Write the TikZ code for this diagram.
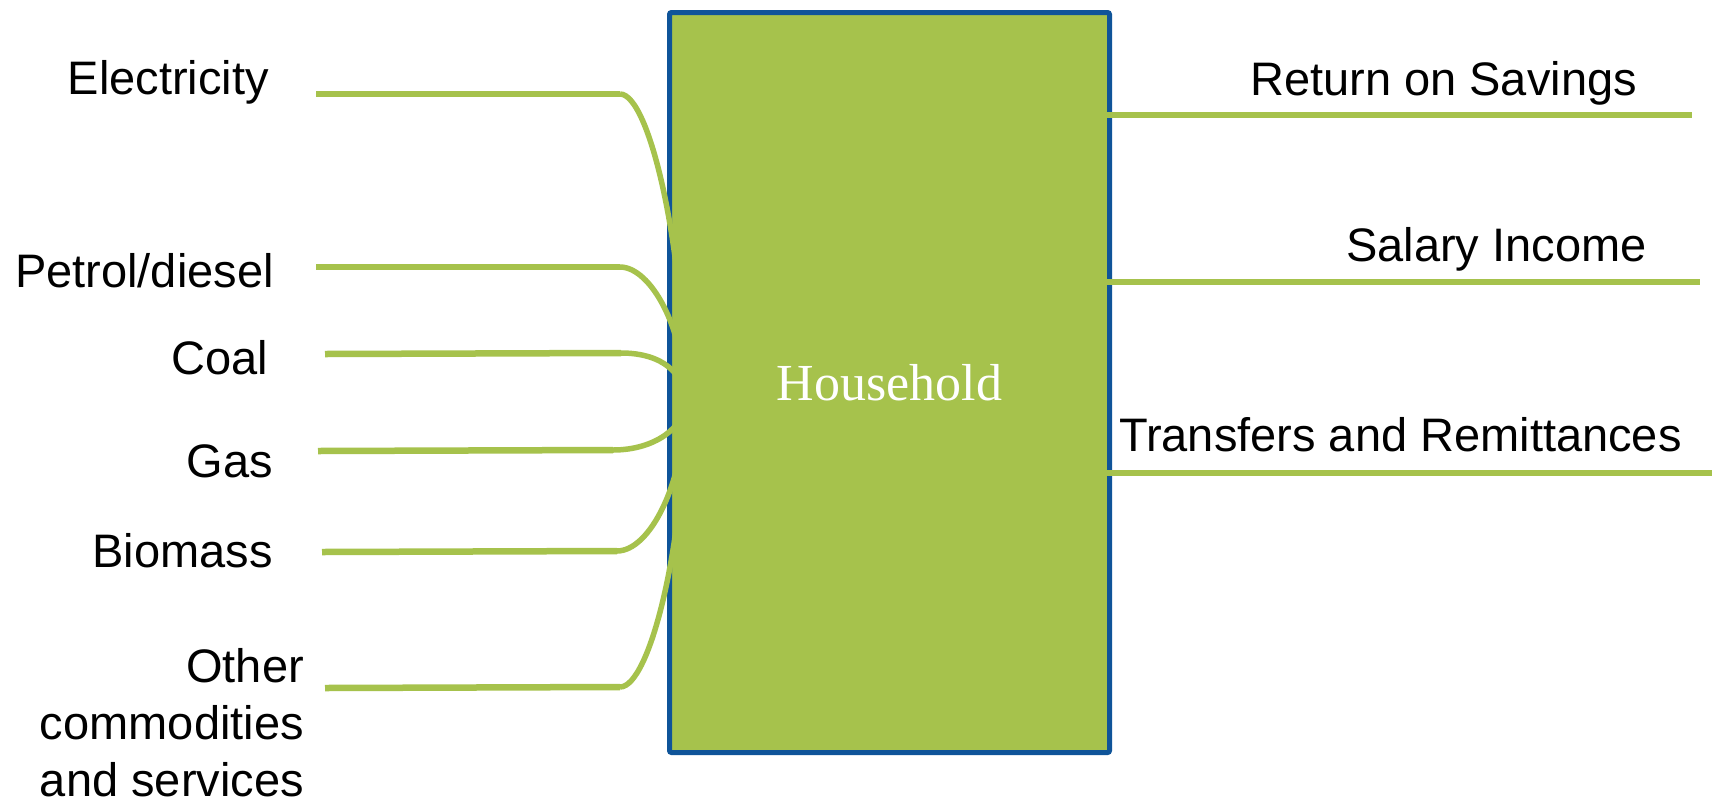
\documentclass[tikz,border=0pt]{standalone}
\usepackage{fontspec}
\setmainfont{Liberation Sans}
\newfontfamily\hhserif{Liberation Serif}
\definecolor{lgreen}{HTML}{A6C24C}
\definecolor{bborder}{HTML}{0F5499}
\tikzset{
  hhbox/.style={draw=bborder, fill=lgreen, line width=5pt, rounded corners=2pt,
    minimum width=440pt, minimum height=740pt, inner sep=0pt,
    font=\hhserif\fontsize{52}{60}\selectfont, text=white},
  lbl/.style={inner sep=0pt, font=\fontsize{47}{57}\selectfont, text=black},
  conn/.style={draw=lgreen, line width=6.5pt},
  curveconn/.style={draw=lgreen, line width=5.5pt},
}
\begin{document}
\begin{tikzpicture}[x=1pt,y=-1pt]
\useasboundingbox (0,0) rectangle (1712,801);
\fill[white] (0,0) rectangle (1712,801);

% central box
\node[hhbox] (hh) at (889.5,382.5) {Household};
\coordinate (hub) at (685,402);

% left labels
\node[lbl, anchor=base east] (elec) at (269,94) {Electricity};
\node[lbl, anchor=base east] (petrol) at (274,287) {Petrol/diesel};
\node[lbl, anchor=base east] (coal) at (268,374) {Coal};
\node[lbl, anchor=base east] (gas) at (273,477) {Gas};
\node[lbl, anchor=base east] (bio) at (273,567) {Biomass};
\node[lbl, anchor=north east, align=right] (other) at (304,648) {Other\\commodities\\and services};

% left connector points
\coordinate (e1) at (316,94);   \coordinate (e2) at (620,94);
\coordinate (p1) at (316,267);  \coordinate (p2) at (620,267);
\coordinate (c1) at (325,354);  \coordinate (c2) at (621,353);
\coordinate (g1) at (318,451);  \coordinate (g2) at (613,450);
\coordinate (b1) at (322,552);  \coordinate (b2) at (617,551);
\coordinate (o1) at (325,688);  \coordinate (o2) at (620,687);

\draw[conn] (e1) -- (e2);
\draw[conn] (p1) -- (p2);
\draw[conn] (c1) -- (c2);
\draw[conn] (g1) -- (g2);
\draw[conn] (b1) -- (b2);
\draw[conn] (o1) -- (o2);
\draw[curveconn] (e2) .. controls +(30,0) and +(0,-150) .. (hub);
\draw[curveconn] (p2) .. controls +(30,0) and +(0,-75) .. (hub);
\draw[curveconn] (c2) .. controls +(42,0) and +(0,-28) .. (hub);
\draw[curveconn] (g2) .. controls +(42,0) and +(0,25) .. (hub);
\draw[curveconn] (b2) .. controls +(33,0) and +(0,80) .. (hub);
\draw[curveconn] (o2) .. controls +(30,0) and +(0,140) .. (hub);

% right labels
\node[lbl, anchor=base west] (ret) at (1250,95) {Return on Savings};
\node[lbl, anchor=base west] (sal) at (1346,261) {Salary Income};
\node[lbl, anchor=base west] (tra) at (1119,451) {Transfers and Remittances};

% right connector ends
\coordinate (r1) at (1692,115);
\coordinate (s1) at (1700,282);
\coordinate (t1) at (1712,473);

\draw[conn] ([xshift=-8pt]hh.east |- r1) -- (r1);
\draw[conn] ([xshift=-8pt]hh.east |- s1) -- (s1);
\draw[conn] ([xshift=-6pt]hh.east |- t1) -- (t1);
\end{tikzpicture}
\end{document}
